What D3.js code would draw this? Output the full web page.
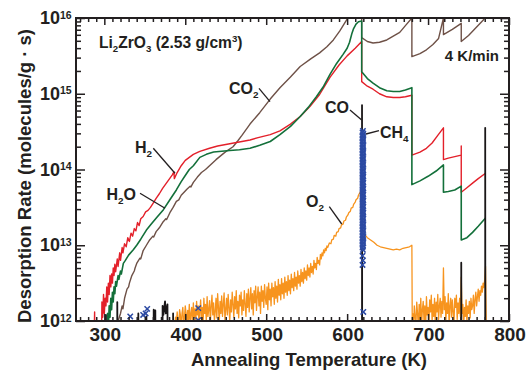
<!DOCTYPE html>
<html><head><meta charset="utf-8">
<script src="https://cdn.jsdelivr.net/npm/d3@7/dist/d3.min.js"></script>
<style>
html,body{margin:0;padding:0;background:#fff;}
text{font-family:"Liberation Sans",Arial,Helvetica,sans-serif;font-weight:bold;fill:#231f20;}
</style></head>
<body><svg id="c" width="531" height="372"></svg>
<script>
// ---- data: [temperature K, log10(desorption rate, molecules/g·s)] ; values below 12 lie under the axis floor
const xTicksMajor = [300, 400, 500, 600, 700, 800];
const yDecades = [12, 13, 14, 15, 16];

const h2 = [[286,11],[288,12.12],[289,11],[296,11],[297,12.25],[298,12.05],[299,12.35],[300,12.1],[301,12.3],[302,12.2],[303,12.45],[304,12.25],[305,12.5],[306,12.35],[307,12.6],[308,12.45],[309,12.62],[310,12.5],[311,12.7],[312,12.6],[313,12.75],[314,12.65],[316,12.82],[317,12.72],[319,12.9],[320,12.8],[322,12.97],[323,12.9],[325,13.02],[327,12.98],[329,13.1],[331,13.05],[333,13.16],[335,13.12],[337,13.22],[339,13.19],[341,13.3],[343,13.26],[345,13.35],[348,13.38],[351,13.44],[354,13.46],[357,13.5],[360,13.55],[364,13.62],[368,13.68],[372,13.75],[376,13.81],[380,13.87],[384,13.93],[386,13.97],[386.5,13.88],[390,13.96],[395,14.05],[400,14.12],[405,14.16],[410,14.2],[418,14.24],[430,14.28],[440,14.31],[450,14.33],[460,14.35],[470,14.37],[480,14.39],[490,14.42],[505,14.46],[517,14.51],[530,14.6],[542,14.7],[554,14.83],[566,14.99],[579,15.22],[590,15.38],[600,15.5],[610,15.6],[618,15.69],[618,15.16],[625,15.1],[632,15.06],[640,15.0],[649,14.96],[657,14.95],[665,14.95],[672,14.96],[680,14.98],[680,14.19],[690,14.23],[698,14.28],[705,14.35],[712,14.45],[719,14.55],[719,14.13],[725,14.15],[733,14.17],[741,14.19],[741,14.31],[741,13.7],[748,13.76],[755,13.82],[762,13.88],[771,13.95]];

const h2o = [[303,11],[304,12.1],[305,11.9],[306,12.2],[307,12.05],[308,12.3],[309,12.15],[310,12.38],[311,12.25],[312,12.45],[313,12.36],[314,12.52],[315,12.46],[317,12.6],[318,12.55],[320,12.66],[321,12.62],[323.5,12.76],[326,12.8],[330,12.87],[335.8,12.94],[340,13.0],[345,13.08],[352,13.2],[358,13.28],[365,13.37],[373,13.47],[381,13.6],[389,13.73],[395,13.84],[400,13.92],[405,14.0],[410,14.05],[418,14.16],[426,14.2],[435,14.23],[445,14.24],[455,14.25],[467,14.26],[480,14.28],[492,14.32],[505,14.37],[517,14.46],[530,14.57],[542,14.7],[552,14.82],[562,14.96],[571,15.1],[579,15.26],[587,15.4],[595,15.52],[600,15.6],[603,15.68],[606,15.8],[608,15.86],[611,15.92],[614,15.95],[618,15.96],[618,15.29],[625,15.2],[632,15.14],[640,15.08],[649,15.04],[657,15.03],[665,15.03],[672,15.05],[680,15.08],[680,13.8],[690,13.85],[700,13.91],[710,13.98],[719,14.06],[719,13.7],[725,13.71],[733,13.73],[741,13.78],[741,13.07],[748,13.1],[755,13.17],[762,13.25],[771,13.36]];

const co2 = [[316,11],[317,12.0],[320,12.1],[322,12.2],[323,12.16],[325,12.3],[328,12.42],[330,12.45],[331,12.5],[334,12.6],[337,12.66],[338,12.7],[340,12.76],[344,12.83],[345,12.82],[348,12.93],[352,13.0],[356,13.07],[360,13.12],[361,13.11],[364,13.18],[368,13.23],[372,13.3],[376,13.35],[377,13.34],[381,13.43],[385,13.5],[389,13.58],[392,13.6],[395,13.66],[402,13.74],[406,13.78],[407,13.77],[410,13.83],[415,13.9],[420,13.96],[425,14.0],[430,14.05],[438,14.13],[447,14.21],[452,14.25],[459,14.3],[465,14.38],[470,14.45],[480,14.6],[492,14.75],[505,14.93],[517,15.08],[530,15.22],[542,15.36],[555,15.46],[566,15.54],[575,15.62],[583,15.71],[591,15.83],[599,15.97],[604,16.05],[618,16.1],[618,15.74],[625,15.69],[632,15.67],[640,15.68],[649,15.71],[657,15.76],[665,15.81],[672,15.9],[680,16.0],[680,15.49],[690,15.53],[698,15.58],[706,15.65],[713,15.73],[719,16.0],[719,15.78],[730,15.85],[741,15.93],[741,15.69],[750,15.77],[760,15.88],[768,15.97],[771,16.02]];

// O2: noisy readings every 1 K from 387 K to 576 K
const o2NoiseLow = [
11.9,12.05,11.95,12.12,12.0,11.92,12.15,12.08,11.9,12.1,
12.18,11.95,12.04,12.2,12.1,11.9,12.14,12.02,12.22,11.96,
12.1,12.18,11.93,12.24,12.05,12.16,11.98,12.26,12.08,12.2,
11.95,12.12,12.28,12.02,12.18,11.94,12.3,12.1,12.22,12.0,
12.32,12.06,12.15,12.27,11.96,12.2,12.34,12.08,12.24,12.0,
12.12,12.3,12.04,12.36,12.18,11.98,12.26,12.1,12.33,12.06,
12.22,12.37,12.02,12.15,12.3,12.08,12.35,12.18,12.0,12.28,
12.12,12.38,12.22,12.05,12.32,12.16,12.4,12.1,12.26,12.04,
12.34,12.2,12.38,12.08,12.28,12.14,12.4,12.22,12.06,12.36,
12.18,12.42,12.12,12.3,12.44,12.16,12.36,12.08,12.4,12.24,
12.46,12.14,12.32,12.45,12.2,12.38,12.1,12.46,12.26,12.4,
12.18,12.48,12.3,12.22,12.45,12.15,12.5,12.28,12.42,12.2,
12.5,12.32,12.44,12.22,12.52,12.3,12.46,12.25,12.55,12.34,
12.48,12.28,12.56,12.36,12.5,12.3,12.58,12.38,12.52,12.34,
12.6,12.4,12.54,12.36,12.62,12.44,12.56,12.4,12.64,12.46,
12.58,12.42,12.66,12.5,12.6,12.46,12.68,12.52,12.64,12.5,
12.7,12.56,12.66,12.54,12.74,12.6,12.7,12.58,12.76,12.64,
12.72,12.62,12.8,12.7,12.76,12.68,12.84,12.76,12.8,12.74,
12.88,12.82,12.9,12.86,12.94,12.9,12.96,12.93,12.99,12.97];
const o2Peak = [[578,13.03],[580,13.02],[581,13.07],[583,13.08],[584,13.13],[586,13.12],[587,13.17],[589,13.18],[590,13.22],[592,13.23],[593,13.27],[595,13.28],[596,13.32],[598,13.33],[599,13.37],[601,13.4],[602,13.43],[604,13.45],[605,13.49],[607,13.5],[608,13.54],[610,13.57],[611,13.6],[613,13.62],[614,13.66],[617,13.72],[618,13.18],[621,13.15],[625,13.1],[629,13.07],[633,13.04],[637,13.0],[641,12.98],[645,12.97],[649,12.96],[653,12.95],[657,12.94],[661,12.95],[665,12.94],[669,12.96],[673,12.97],[677,12.98],[680,13.0],[680.5,11.9]];
// O2: noisy readings every 1 K from 681 K to 772 K
const o2NoiseHigh = [
12.1,11.9,12.2,12.05,11.95,12.25,12.1,11.92,12.22,12.02,
12.3,11.95,12.15,12.26,12.0,12.2,11.9,12.32,12.08,12.18,
11.96,12.28,12.12,12.34,12.0,12.22,12.06,12.3,11.94,12.25,
12.12,12.35,12.02,12.2,12.3,12.05,12.26,12.1,12.7,12.15,
12.32,12.0,12.24,12.1,12.36,11.95,12.2,12.3,12.05,12.28,
12.12,11.96,12.3,12.18,12.34,12.02,12.24,12.1,12.3,12.06,
12.58,12.1,12.22,11.94,12.18,12.06,12.28,11.98,12.2,12.1,
12.26,12.04,12.3,12.15,12.2,12.34,12.1,12.28,12.38,12.2,
12.32,12.42,12.26,12.4,12.34,12.46,12.38,12.5,12.44,12.55,
12.72,11.9];
const o2 = o2NoiseLow.map((v, i) => [387 + i, v])
  .concat(o2Peak)
  .concat(o2NoiseHigh.map((v, i) => [681 + i, v]));

const co = [[290,11],[302,11],[302,12.08],[302.5,11],[316,11],[316,12.25],[316.5,11],[342,11],[342,12.1],[342.5,11],[352,11],[352,12.06],[352.5,11],[361,11],[361,12.15],[362,12.05],[363,12.14],[363.5,11],[372,11],[372,12.2],[373,12.08],[375,12.26],[376,12.1],[378,12.22],[378.5,11],[385,11],[385,12.1],[385.5,11],[618.4,11],[618.4,14.85],[618.6,11],[741,11],[741,12.77],[741.2,11],[770.6,11],[770.6,14.55],[770.8,11]];

const ch4 = [[332,12.06],[348,12.08],[351,12.1],[353,12.16],[416,12.17],[416,12.01],[620,12.12],[619,12.74],[619.5,12.8],[619,12.86],[619.5,12.94],[619,12.97],[619.5,12.99],[619,13.01],[620,13.03],[619,13.05],[619.5,13.07],[619,13.09],[620,13.11],[619,13.13],[619.5,13.15],[619,13.17],[620,13.19],[619,13.21],[619.5,13.23],[619,13.25],[620,13.27],[619,13.29],[619.5,13.31],[619,13.33],[620,13.35],[619,13.37],[619.5,13.39],[619,13.41],[620,13.43],[619,13.45],[619.5,13.47],[619,13.49],[620,13.51],[619,13.53],[619.5,13.55],[619,13.57],[620,13.59],[619,13.61],[619.5,13.63],[619,13.65],[620,13.67],[619,13.69],[619.5,13.71],[619,13.73],[620,13.75],[619,13.77],[619.5,13.79],[619,13.81],[620,13.83],[619,13.85],[619.5,13.87],[619,13.89],[620,13.91],[619,13.93],[619.5,13.95],[619,13.97],[620,13.99],[619,14.01],[619.5,14.03],[619,14.05],[620,14.07],[619,14.09],[619.5,14.11],[619,14.13],[620,14.15],[619,14.17],[619.5,14.19],[619,14.21],[620,14.23],[619,14.25],[619.5,14.27],[619,14.29],[620,14.31],[619,14.33],[619.5,14.35],[619,14.37],[620,14.39],[619,14.41],[619.5,14.43],[619,14.45],[620,14.47],[619,14.49],[619.5,14.51]];

// ---- layout
const L = 76, R = 509, T = 18, B = 321;
const svg = d3.select("#c");
const x = d3.scaleLinear().domain([265, 800]).range([L, R]);
const y = d3.scaleLog().domain([1e12, 1e16]).range([B, T]);
const yv = v => y(Math.pow(10, v));

svg.append("clipPath").attr("id", "pc").append("rect")
  .attr("x", L).attr("y", T).attr("width", R - L).attr("height", B - T);

const g = svg.append("g").attr("clip-path", "url(#pc)");
const line = d3.line().x(d => x(d[0])).y(d => yv(d[1]));

const series = [
  {d: co2, c: "#6e5147", w: 1.4},
  {d: h2, c: "#e3202a", w: 1.4},
  {d: h2o, c: "#13703a", w: 1.6},
  {d: o2, c: "#f7941e", w: 1.3},
  {d: co, c: "#1a1718", w: 1.8}
];
series.forEach(s => {
  g.append("path").datum(s.d).attr("d", line)
    .attr("fill", "none").attr("stroke", s.c).attr("stroke-width", s.w)
    .attr("stroke-linejoin", "round");
});
g.selectAll("path.ch4").data(ch4).enter().append("path").attr("class", "ch4")
  .attr("d", "M-2.7,-2.7L2.7,2.7M-2.7,2.7L2.7,-2.7")
  .attr("transform", d => `translate(${x(d[0])},${yv(d[1])})`)
  .attr("stroke", "#2c4aa3").attr("stroke-width", 1.5).attr("fill", "none");

// ---- axes ticks (inward)
const minorX = d3.range(270, 801, 10).filter(v => v % 100 !== 0);
function styleAxis(sel) {
  sel.select(".domain").remove();
  sel.selectAll("line").attr("stroke", "#231f20").attr("stroke-width", 1.5);
  sel.selectAll("text").remove();
}
svg.append("g").attr("transform", `translate(0,${B})`)
  .call(d3.axisBottom(x).tickValues(minorX).tickSize(-4)).call(styleAxis);
svg.append("g").attr("transform", `translate(0,${B})`)
  .call(d3.axisBottom(x).tickValues(xTicksMajor).tickSize(-7)).call(styleAxis);
svg.append("g").attr("transform", `translate(0,${T})`)
  .call(d3.axisTop(x).tickValues(minorX).tickSize(-4)).call(styleAxis);
svg.append("g").attr("transform", `translate(0,${T})`)
  .call(d3.axisTop(x).tickValues(xTicksMajor).tickSize(-7)).call(styleAxis);

const minorY = [];
for (let n = 12; n < 16; n++) for (let k = 2; k <= 9; k++) minorY.push(k * Math.pow(10, n));
const majorY = yDecades.map(n => Math.pow(10, n));
svg.append("g").attr("transform", `translate(${L},0)`)
  .call(d3.axisLeft(y).tickValues(minorY).tickSize(-5)).call(styleAxis);
svg.append("g").attr("transform", `translate(${L},0)`)
  .call(d3.axisLeft(y).tickValues(majorY).tickSize(-9)).call(styleAxis);
svg.append("g").attr("transform", `translate(${R},0)`)
  .call(d3.axisRight(y).tickValues(minorY).tickSize(-5)).call(styleAxis);
svg.append("g").attr("transform", `translate(${R},0)`)
  .call(d3.axisRight(y).tickValues(majorY).tickSize(-9)).call(styleAxis);

svg.append("rect").attr("x", L).attr("y", T).attr("width", R - L).attr("height", B - T)
  .attr("fill", "none").attr("stroke", "#231f20").attr("stroke-width", 2);

// ---- tick labels
xTicksMajor.forEach(v => {
  svg.append("text").attr("x", x(v) + 1).attr("y", 340.5).attr("text-anchor", "middle")
    .attr("font-size", 19).text(v);
});
yDecades.forEach(n => {
  const yy = yv(n);
  svg.append("text").attr("x", 60).attr("y", yy + 6).attr("text-anchor", "end")
    .attr("font-size", 18).text("10");
  svg.append("text").attr("x", 60).attr("y", yy + 0.5).attr("font-size", 10.5).text(n);
});

// ---- axis titles
svg.append("text").attr("x", 309).attr("y", 366).attr("text-anchor", "middle")
  .attr("font-size", 18.5).text("Annealing Temperature (K)");
svg.append("text").attr("transform", "translate(31,176) rotate(-90)").attr("text-anchor", "middle")
  .attr("font-size", 18.5).text("Desorption Rate (molecules/g \u00B7 s)");

// ---- annotations
function label(xp, yp, parts, size) {
  const t = svg.append("text").attr("x", xp).attr("y", yp).attr("font-size", size);
  parts.forEach(p => {
    const s = t.append("tspan").text(p[0]);
    if (p[1] === "sub") s.attr("font-size", size * 0.62).attr("dy", 4);
    else if (p[1] === "sup") s.attr("font-size", size * 0.62).attr("dy", -6);
    else if (p[1] === "back") s.attr("dy", p[2]);
  });
  return t;
}
label(99, 48, [["Li"], ["2", "sub"], ["ZrO", "back", -4], ["3", "sub"], [" (2.53 g/cm", "back", -4], ["3", "sup"], [")", "back", 6]], 15.6);
svg.append("text").attr("x", 499).attr("y", 61).attr("text-anchor", "end").attr("font-size", 15).text("4 K/min");
label(229, 93.5, [["CO"], ["2", "sub"]], 16);
label(135, 152.7, [["H"], ["2", "sub"]], 16);
label(106.5, 199.5, [["H"], ["2", "sub"], ["O", "back", -4]], 16);
label(325, 113.3, [["CO"]], 16);
label(380, 137.5, [["CH"], ["4", "sub"]], 16);
label(306, 206.7, [["O"], ["2", "sub"]], 16);

const leaders = [
  [259, 88.3, 270, 101.7],
  [153.3, 148.3, 175, 173.3],
  [140, 193.3, 165, 208.3],
  [350, 110, 361.7, 120],
  [366, 134, 379, 130.7],
  [329.3, 206.7, 341.7, 224]
];
leaders.forEach(l => svg.append("line").attr("x1", l[0]).attr("y1", l[1]).attr("x2", l[2]).attr("y2", l[3])
  .attr("stroke", "#231f20").attr("stroke-width", 1.3));
</script></body></html>
